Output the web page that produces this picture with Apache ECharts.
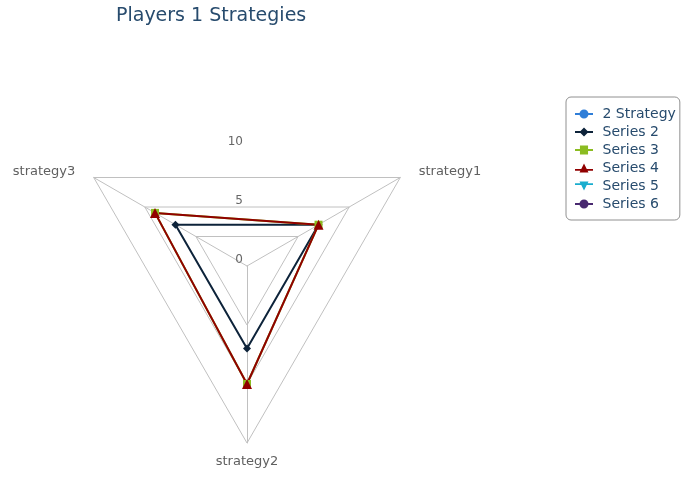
<!DOCTYPE html>
<html>
<head>
<meta charset="utf-8">
<script src="https://cdn.jsdelivr.net/npm/echarts@6/dist/echarts.min.js"></script>
<style>
html, body { margin: 0; padding: 0; background: #fff; }
#chart { width: 682px; height: 477px; }
</style>
</head>
<body>
<div id="chart"></div>
<script>
const categories = ['strategy1', 'strategy2', 'strategy3']
const seriesNames = ['2 Strategy', 'Series 2', 'Series 3', 'Series 4', 'Series 5', 'Series 6']
const strategyValues = []
const series2Values = [7, 7, 7]
const series3Values = [7, 10, 9]
const series4Values = [7, 10, 9]
const series5Values = []
const series6Values = []
const tickLabels = ['0', '5', '10']
const axisMax = 15

const font = 'DejaVu Sans, Verdana, sans-serif'
const colors = ['#2f7ed8', '#0d233a', '#8bbc21', '#910000', '#1aadce', '#492970']
const allValues = [strategyValues, series2Values, series3Values, series4Values, series5Values, series6Values]
// echarts lays indicators out counter-clockwise, the original runs clockwise
const drawOrder = [0, 2, 1]

const markers = ['circle', 'diamond', 'rect', 'triangle', 'path://M0,0H10L5,10Z', 'circle']
const legendIcons = [
  'path://M0,4H20V6H0Z M10,0A5,5 0 1 1 10,10A5,5 0 1 1 10,0Z',
  'path://M0,4H20V6H0Z M10,0L15,5L10,10L5,5Z',
  'path://M0,4H20V6H0Z M5.5,0H14.5V10H5.5Z',
  'path://M0,6H20V8H0Z M10,0L15,10H5Z',
  'path://M0,2H20V4H0Z M5,0H15L10,10Z',
  'path://M0,4H20V6H0Z M10,0A5,5 0 1 1 10,10A5,5 0 1 1 10,0Z'
]

const chart = echarts.init(document.getElementById('chart'))
chart.setOption({
  animation: false,
  title: {
    text: 'Players 1 Strategies',
    left: 116,
    top: 7,
    padding: 0,
    textStyle: { color: '#274b6d', fontSize: 19, fontWeight: 'normal', fontFamily: font }
  },
  legend: {
    orient: 'vertical',
    left: 566,
    top: 97,
    padding: [10, 4, 9, 9],
    itemGap: 4,
    itemWidth: 21,
    itemHeight: 9,
    selectedMode: false,
    borderColor: '#909090',
    borderWidth: 1,
    borderRadius: 5,
    textStyle: { color: '#274b6d', fontSize: 14, fontFamily: font, padding: [0, 0, 0, 3] },
    data: seriesNames.map((name, i) => ({ name, icon: legendIcons[i] }))
  },
  radar: [
    {
      center: [247, 266],
      radius: 177,
      startAngle: 30,
      shape: 'polygon',
      splitNumber: 3,
      nameGap: 12,
      indicator: drawOrder.map(k => ({ name: categories[k], min: 0, max: axisMax })),
      axisName: { color: '#606060', fontSize: 13, fontFamily: font, padding: [0, 8, 0, 8] },
      axisLine: { lineStyle: { color: '#C0C0C0', width: 1 } },
      splitLine: { lineStyle: { color: '#C0C0C0', width: 1 } },
      splitArea: { show: false }
    },
    {
      // only carries the 0 / 5 / 10 scale straight up from the centre
      center: [247, 266],
      radius: 177,
      startAngle: 90,
      shape: 'polygon',
      splitNumber: 3,
      indicator: categories.map((c, i) => ({
        name: '',
        min: 0,
        max: axisMax,
        axisLabel: { show: i === 0 }
      })),
      axisName: { show: false },
      axisLine: { show: false },
      axisTick: { show: false },
      splitLine: { show: false },
      splitArea: { show: false },
      axisLabel: {
        show: true,
        margin: 4,
        color: '#666666',
        fontSize: 12,
        fontFamily: font,
        verticalAlign: 'bottom',
        formatter: v => tickLabels.includes(String(v)) ? String(v) : ''
      }
    }
  ],
  series: seriesNames.map((name, i) => ({
    type: 'radar',
    radarIndex: 0,
    name,
    symbol: markers[i],
    symbolSize: i === 3 ? 10 : 8,
    itemStyle: { color: colors[i] },
    lineStyle: { color: colors[i], width: 2 },
    data: allValues[i].length ? [{ name, value: drawOrder.map(k => allValues[i][k]) }] : []
  }))
})
</script>
</body>
</html>
